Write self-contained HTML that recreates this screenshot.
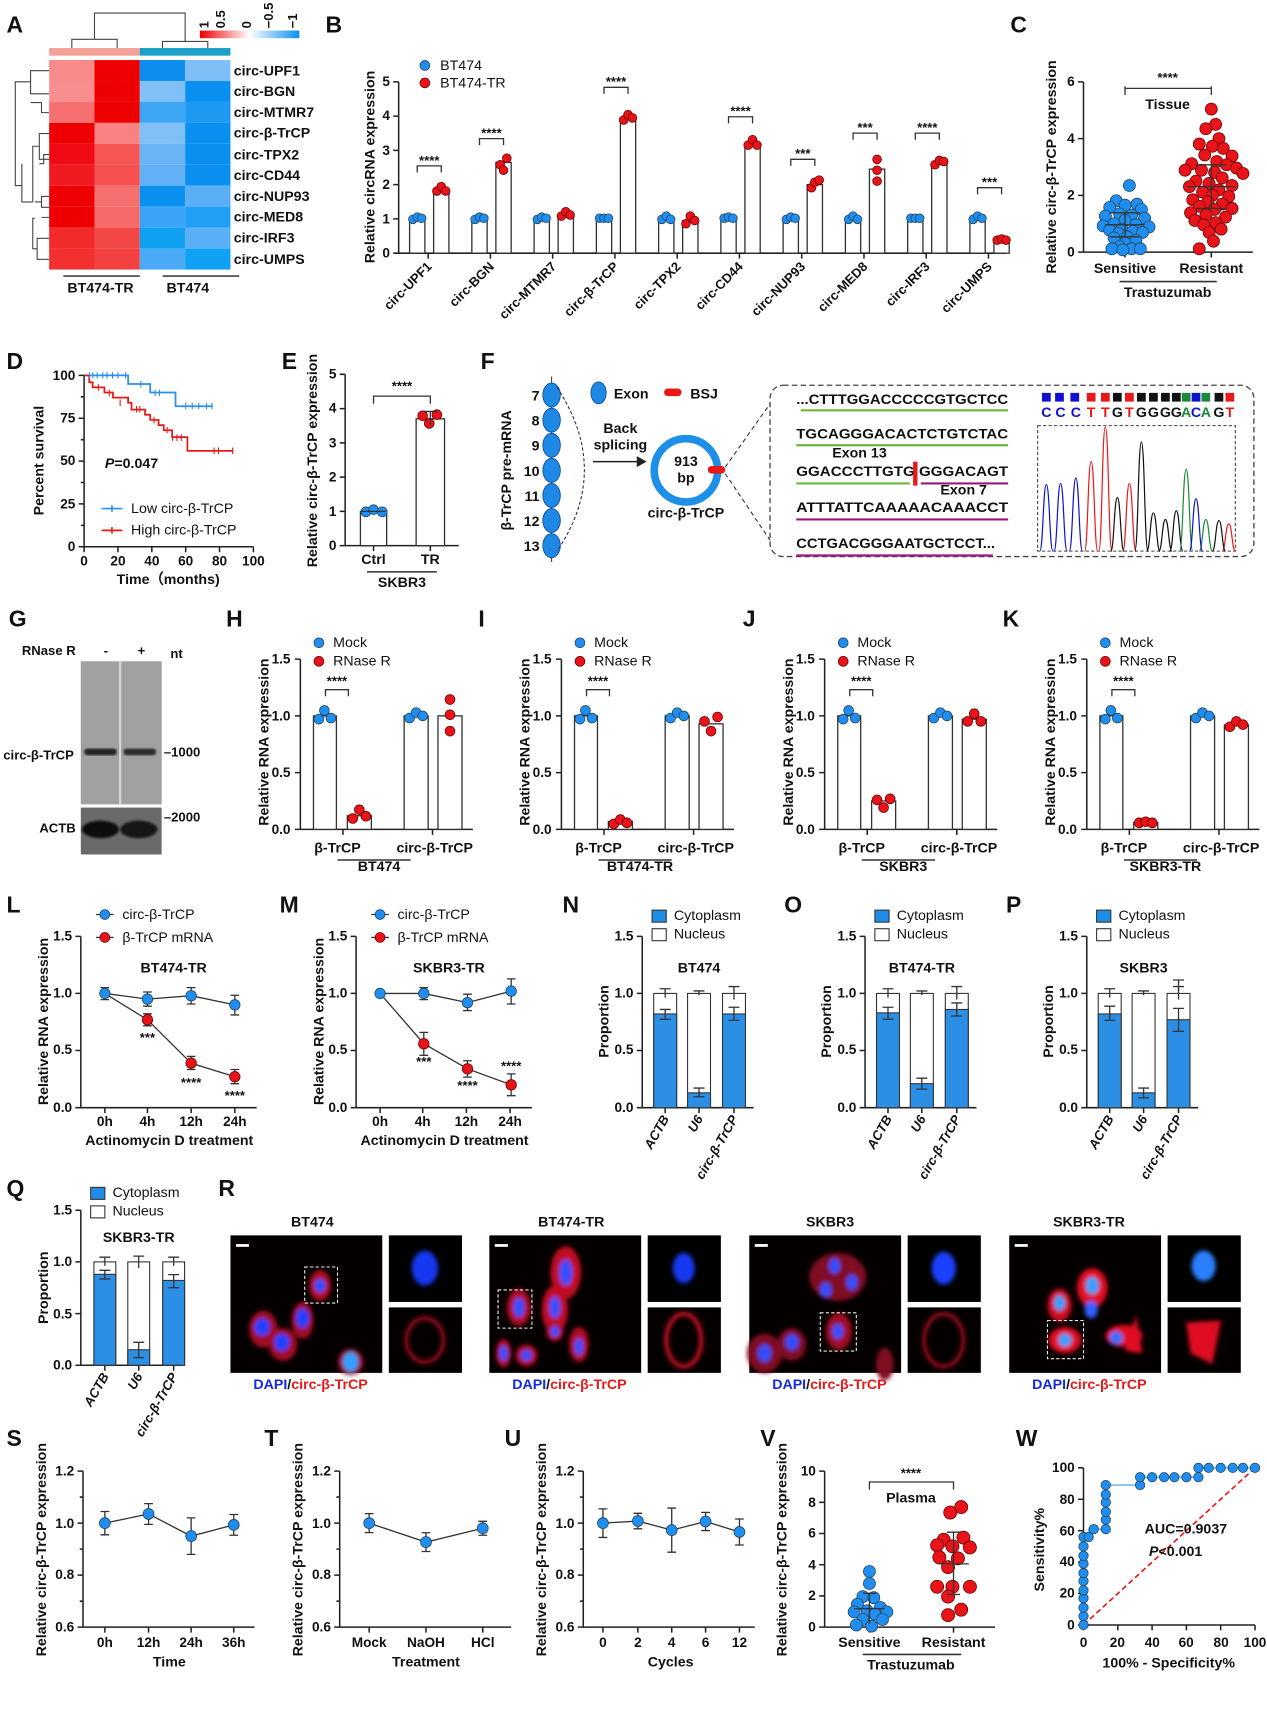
<!DOCTYPE html>
<html><head><meta charset="utf-8"><style>
html,body{margin:0;padding:0;background:#fff;}
svg{display:block;}
text{font-family:"Liberation Sans",sans-serif;font-weight:bold;fill:#111;}
.L{font-size:21px;}
.k{font-size:12px;}
.a{font-size:12.5px;}
.s{font-size:13px;}
.ax{stroke:#222;stroke-width:1.4;fill:none;}
.bar{fill:#fff;stroke:#333;stroke-width:1.2;}
.bd{fill:#1f8ef0;stroke:#245;stroke-width:.7;}
.rd{fill:#e8141a;stroke:#600;stroke-width:.7;}
.eb{stroke:#333;stroke-width:1.2;fill:none;}
.bl{fill:#2b8fe6;stroke:#333;stroke-width:1;}
</style></head><body>
<svg width="1267" height="1721" viewBox="0 0 1160 1577" preserveAspectRatio="none" xmlns="http://www.w3.org/2000/svg">
<defs>
<linearGradient id="cg" x1="0" x2="1"><stop offset="0" stop-color="#ee0000"/><stop offset=".5" stop-color="#fff"/><stop offset="1" stop-color="#0a90f0"/></linearGradient>
<filter id="bl"><feGaussianBlur stdDeviation="2"/></filter>
<filter id="bl2"><feGaussianBlur stdDeviation="1"/></filter>
</defs>

<!-- ===== A ===== -->
<text x="6" y="30" class="L">A</text>
<g stroke="#444" stroke-width="1" fill="none">
<path d="M86.5,36 V12 H169.5 V38"/><path d="M65.75,46 V36 H107.25 V46"/><path d="M148.75,46 V38 H190.25 V46"/>
<path d="M45,64.8 H28 V86 H45 M45,103.2 H38 V94 H28 M28,75 H14 V170 H20 M45,122.4 H36 V146 H45 M45,141.6 H40 V150 H36 M36,134 H30 V185 H20 V150 M45,180 H38 V190 H45 M45,199.2 H38 M38,185 H32 M45,218.4 H34 V237.6 H45 M34,228 H30 V200 H32"/>
</g>
<rect x="45" y="44" width="83" height="7" fill="#f5a096"/><rect x="128" y="44" width="83" height="7" fill="#1ba0c8"/>
<rect x="183" y="28" width="91" height="7" fill="url(#cg)"/>
<g class="k" font-size="11"><text transform="translate(191,26) rotate(-90)">1</text><text transform="translate(206,26) rotate(-90)">0.5</text><text transform="translate(230,26) rotate(-90)">0</text><text transform="translate(250,26) rotate(-90)">−0.5</text><text transform="translate(272,26) rotate(-90)">−1</text></g>
<g>
<rect x="45" y="55" width="41.5" height="19.2" fill="#f88a8a"/><rect x="86.5" y="55" width="41.5" height="19.2" fill="#ee0000"/><rect x="128" y="55" width="41.5" height="19.2" fill="#0b8ef0"/><rect x="169.5" y="55" width="41.5" height="19.2" fill="#7fbff8"/>
<rect x="45" y="74.2" width="41.5" height="19.2" fill="#f88e8e"/><rect x="86.5" y="74.2" width="41.5" height="19.2" fill="#ee0000"/><rect x="128" y="74.2" width="41.5" height="19.2" fill="#80bff8"/><rect x="169.5" y="74.2" width="41.5" height="19.2" fill="#0a90f0"/>
<rect x="45" y="93.4" width="41.5" height="19.2" fill="#f77070"/><rect x="86.5" y="93.4" width="41.5" height="19.2" fill="#ee0000"/><rect x="128" y="93.4" width="41.5" height="19.2" fill="#3ca6f5"/><rect x="169.5" y="93.4" width="41.5" height="19.2" fill="#1c9af2"/>
<rect x="45" y="112.6" width="41.5" height="19.2" fill="#ee0000"/><rect x="86.5" y="112.6" width="41.5" height="19.2" fill="#f88282"/><rect x="128" y="112.6" width="41.5" height="19.2" fill="#80c0f8"/><rect x="169.5" y="112.6" width="41.5" height="19.2" fill="#0a90f0"/>
<rect x="45" y="131.8" width="41.5" height="19.2" fill="#f00a14"/><rect x="86.5" y="131.8" width="41.5" height="19.2" fill="#f65555"/><rect x="128" y="131.8" width="41.5" height="19.2" fill="#6ab4f6"/><rect x="169.5" y="131.8" width="41.5" height="19.2" fill="#0a90f0"/>
<rect x="45" y="151" width="41.5" height="19.2" fill="#f11a20"/><rect x="86.5" y="151" width="41.5" height="19.2" fill="#f65050"/><rect x="128" y="151" width="41.5" height="19.2" fill="#62b0f6"/><rect x="169.5" y="151" width="41.5" height="19.2" fill="#0a90f0"/>
<rect x="45" y="170.2" width="41.5" height="19.2" fill="#ee0000"/><rect x="86.5" y="170.2" width="41.5" height="19.2" fill="#f67070"/><rect x="128" y="170.2" width="41.5" height="19.2" fill="#0a90f0"/><rect x="169.5" y="170.2" width="41.5" height="19.2" fill="#5aaef6"/>
<rect x="45" y="189.4" width="41.5" height="19.2" fill="#ee0000"/><rect x="86.5" y="189.4" width="41.5" height="19.2" fill="#f66a6a"/><rect x="128" y="189.4" width="41.5" height="19.2" fill="#3aa5f5"/><rect x="169.5" y="189.4" width="41.5" height="19.2" fill="#20a0f4"/>
<rect x="45" y="208.6" width="41.5" height="19.2" fill="#f22a2a"/><rect x="86.5" y="208.6" width="41.5" height="19.2" fill="#f44848"/><rect x="128" y="208.6" width="41.5" height="19.2" fill="#10a0f2"/><rect x="169.5" y="208.6" width="41.5" height="19.2" fill="#5ab0f6"/>
<rect x="45" y="227.8" width="41.5" height="19.2" fill="#f23030"/><rect x="86.5" y="227.8" width="41.5" height="19.2" fill="#f34040"/><rect x="128" y="227.8" width="41.5" height="19.2" fill="#4aaaf6"/><rect x="169.5" y="227.8" width="41.5" height="19.2" fill="#10a0f4"/>
</g>
<g class="s"><text x="214" y="69">circ-UPF1</text><text x="214" y="88">circ-BGN</text><text x="214" y="107">circ-MTMR7</text><text x="214" y="126">circ-β-TrCP</text><text x="214" y="146">circ-TPX2</text><text x="214" y="165">circ-CD44</text><text x="214" y="184">circ-NUP93</text><text x="214" y="203">circ-MED8</text><text x="214" y="222">circ-IRF3</text><text x="214" y="242">circ-UMPS</text>
<text x="92" y="268" text-anchor="middle">BT474-TR</text><text x="172" y="268" text-anchor="middle">BT474</text></g>
<path d="M58,253 H128 M149,253 H219" stroke="#444" stroke-width="1.5"/>

<!-- ===== B ===== -->
<text x="298" y="30" class="L">B</text>
<path class="ax" d="M365,75 V232 H921"/>
<path class="ax" d="M360,75H365M360,106.4H365M360,137.8H365M360,169.2H365M360,200.6H365M360,232H365 M392,232v5M449,232v5M506,232v5M563,232v5M620,232v5M677,232v5M734,232v5M791,232v5M848,232v5M905,232v5"/>
<g class="a" text-anchor="end"><text x="357" y="79">5</text><text x="357" y="110">4</text><text x="357" y="142">3</text><text x="357" y="173">2</text><text x="357" y="205">1</text><text x="357" y="236">0</text></g>
<text transform="translate(343,153) rotate(-90)" text-anchor="middle" class="s">Relative circRNA expression</text>
<circle cx="389" cy="60" r="4.5" class="bd"/><text x="403" y="64" class="s" style="font-weight:normal">BT474</text>
<circle cx="389" cy="76" r="4.5" class="rd"/><text x="403" y="80" class="s" style="font-weight:normal">BT474-TR</text>
<g>
<rect class="bar" x="375" y="200.6" width="14" height="31.4"/><rect class="bar" x="432" y="200.6" width="14" height="31.4"/><rect class="bar" x="489" y="200.6" width="14" height="31.4"/><rect class="bar" x="546" y="200.6" width="14" height="31.4"/><rect class="bar" x="603" y="200.6" width="14" height="31.4"/><rect class="bar" x="660" y="200.6" width="14" height="31.4"/><rect class="bar" x="717" y="200.6" width="14" height="31.4"/><rect class="bar" x="774" y="200.6" width="14" height="31.4"/><rect class="bar" x="831" y="200.6" width="14" height="31.4"/><rect class="bar" x="888" y="200.6" width="14" height="31.4"/>
<rect class="bar" x="397" y="173.9" width="14" height="58.1"/><rect class="bar" x="454" y="148.8" width="14" height="83.2"/><rect class="bar" x="511" y="196.8" width="14" height="35.2"/><rect class="bar" x="568" y="108" width="14" height="124"/><rect class="bar" x="625" y="202.2" width="14" height="29.8"/><rect class="bar" x="682" y="131.5" width="14" height="100.5"/><rect class="bar" x="739" y="169.2" width="14" height="62.8"/><rect class="bar" x="796" y="155" width="14" height="77"/><rect class="bar" x="853" y="148.8" width="14" height="83.2"/><rect class="bar" x="910" y="219.4" width="14" height="12.6"/>
</g>
<g>
<circle cx="378" cy="201" r="4" class="bd"/><circle cx="382" cy="199" r="4" class="bd"/><circle cx="386" cy="200" r="4" class="bd"/>
<circle cx="435" cy="201" r="4" class="bd"/><circle cx="439" cy="199" r="4" class="bd"/><circle cx="443" cy="200" r="4" class="bd"/>
<circle cx="492" cy="201" r="4" class="bd"/><circle cx="496" cy="199" r="4" class="bd"/><circle cx="500" cy="200" r="4" class="bd"/>
<circle cx="549" cy="200" r="4" class="bd"/><circle cx="553" cy="200" r="4" class="bd"/><circle cx="557" cy="200" r="4" class="bd"/>
<circle cx="606" cy="201" r="4" class="bd"/><circle cx="610" cy="198" r="4" class="bd"/><circle cx="614" cy="201" r="4" class="bd"/>
<circle cx="663" cy="200" r="4" class="bd"/><circle cx="667" cy="199" r="4" class="bd"/><circle cx="671" cy="200" r="4" class="bd"/>
<circle cx="720" cy="201" r="4" class="bd"/><circle cx="724" cy="199" r="4" class="bd"/><circle cx="728" cy="200" r="4" class="bd"/>
<circle cx="777" cy="201" r="4" class="bd"/><circle cx="781" cy="198" r="4" class="bd"/><circle cx="785" cy="201" r="4" class="bd"/>
<circle cx="834" cy="200" r="4" class="bd"/><circle cx="838" cy="200" r="4" class="bd"/><circle cx="842" cy="200" r="4" class="bd"/>
<circle cx="891" cy="201" r="4" class="bd"/><circle cx="895" cy="198" r="4" class="bd"/><circle cx="899" cy="200" r="4" class="bd"/>
<circle cx="400" cy="175" r="4" class="rd"/><circle cx="404" cy="171" r="4" class="rd"/><circle cx="408" cy="175" r="4" class="rd"/>
<circle cx="458" cy="151" r="4" class="rd"/><circle cx="461" cy="156" r="4" class="rd"/><circle cx="464" cy="145" r="4" class="rd"/>
<circle cx="514" cy="198" r="4" class="rd"/><circle cx="518" cy="194" r="4" class="rd"/><circle cx="522" cy="197" r="4" class="rd"/>
<circle cx="571" cy="110" r="4" class="rd"/><circle cx="575" cy="105" r="4" class="rd"/><circle cx="579" cy="108" r="4" class="rd"/>
<circle cx="628" cy="205" r="4" class="rd"/><circle cx="632" cy="198" r="4" class="rd"/><circle cx="636" cy="202" r="4" class="rd"/>
<circle cx="685" cy="133" r="4" class="rd"/><circle cx="689" cy="128" r="4" class="rd"/><circle cx="693" cy="133" r="4" class="rd"/>
<circle cx="743" cy="172" r="4" class="rd"/><circle cx="746" cy="167" r="4" class="rd"/><circle cx="750" cy="165" r="4" class="rd"/>
<circle cx="803" cy="146" r="4" class="rd"/><circle cx="803" cy="156" r="4" class="rd"/><circle cx="803" cy="166" r="4" class="rd"/>
<circle cx="856" cy="151" r="4" class="rd"/><circle cx="860" cy="147" r="4" class="rd"/><circle cx="864" cy="148" r="4" class="rd"/>
<circle cx="913" cy="220" r="4" class="rd"/><circle cx="917" cy="219" r="4" class="rd"/><circle cx="921" cy="220" r="4" class="rd"/>
</g>
<g class="eb"><path d="M382,158V152H404V158M382,152H404"/><path d="M439,133V127H461V133M439,127H461"/><path d="M553,86V80H575V86M553,80H575"/><path d="M667,113V107H689V113M667,107H689"/><path d="M724,152V146H746V152M724,146H746"/><path d="M781,128V122H803V128M781,122H803"/><path d="M838,128V122H860V128M838,122H860"/><path d="M895,178V172H917V178M895,172H917"/></g>
<g class="k" text-anchor="middle"><text x="393" y="151">****</text><text x="450" y="126">****</text><text x="564" y="79">****</text><text x="678" y="106">****</text><text x="735" y="145">***</text><text x="792" y="121">***</text><text x="849" y="121">****</text><text x="906" y="171">***</text></g>
<g class="k" text-anchor="end" font-size="12.5">
<text transform="translate(396,245) rotate(-45)">circ-UPF1</text><text transform="translate(453,245) rotate(-45)">circ-BGN</text><text transform="translate(510,245) rotate(-45)">circ-MTMR7</text><text transform="translate(567,245) rotate(-45)">circ-β-TrCP</text><text transform="translate(624,245) rotate(-45)">circ-TPX2</text><text transform="translate(681,245) rotate(-45)">circ-CD44</text><text transform="translate(738,245) rotate(-45)">circ-NUP93</text><text transform="translate(795,245) rotate(-45)">circ-MED8</text><text transform="translate(852,245) rotate(-45)">circ-IRF3</text><text transform="translate(909,245) rotate(-45)">circ-UMPS</text>
</g>

<!-- ===== C ===== -->
<text x="925" y="30" class="L">C</text>
<path class="ax" d="M992,75V231H1147M987,75H992M987,127H992M987,179H992M987,231H992M1030,231v5M1109,231v5"/>
<g class="a" text-anchor="end"><text x="984" y="79">6</text><text x="984" y="131">4</text><text x="984" y="183">2</text><text x="984" y="235">0</text></g>
<text transform="translate(967,153) rotate(-90)" text-anchor="middle" class="s">Relative circ-β-TrCP expression</text>
<path class="eb" d="M1030,87V79M1030,81H1109M1109,87V79"/>
<text x="1069" y="75" class="k" text-anchor="middle">****</text>
<text x="1069" y="100" class="s" text-anchor="middle">Tissue</text>
<g class="bd">
<circle cx="1034" cy="170" r="5.5"/><circle cx="1022" cy="184" r="5.5"/><circle cx="1041" cy="187" r="5.5"/><circle cx="1030" cy="188" r="5.5"/><circle cx="1016" cy="190" r="5.5"/><circle cx="1045" cy="192" r="5.5"/><circle cx="1025" cy="196" r="5.5"/><circle cx="1036" cy="197" r="5.5"/><circle cx="1012" cy="198" r="5.5"/><circle cx="1048" cy="200" r="5.5"/><circle cx="1030" cy="202" r="5.5"/><circle cx="1020" cy="205" r="5.5"/><circle cx="1040" cy="206" r="5.5"/><circle cx="1010" cy="207" r="5.5"/><circle cx="1052" cy="208" r="5.5"/><circle cx="1027" cy="210" r="5.5"/><circle cx="1016" cy="211" r="5.5"/><circle cx="1037" cy="212" r="5.5"/><circle cx="1046" cy="213" r="5.5"/><circle cx="1024" cy="214" r="5.5"/><circle cx="1032" cy="217" r="5.5"/><circle cx="1020" cy="218" r="5.5"/><circle cx="1040" cy="220" r="5.5"/><circle cx="1030" cy="223" r="5.5"/><circle cx="1025" cy="226" r="5.5"/><circle cx="1018" cy="228" r="5.5"/><circle cx="1036" cy="228" r="5.5"/><circle cx="1028" cy="229" r="5.5"/><circle cx="1044" cy="228" r="5.5"/>
</g>
<g class="rd">
<circle cx="1109" cy="100" r="5.5"/><circle cx="1113" cy="114" r="5.5"/><circle cx="1104" cy="118" r="5.5"/><circle cx="1116" cy="127" r="5.5"/><circle cx="1098" cy="132" r="5.5"/><circle cx="1110" cy="134" r="5.5"/><circle cx="1120" cy="136" r="5.5"/><circle cx="1103" cy="142" r="5.5"/><circle cx="1128" cy="143" r="5.5"/><circle cx="1114" cy="148" r="5.5"/><circle cx="1091" cy="150" r="5.5"/><circle cx="1123" cy="151" r="5.5"/><circle cx="1132" cy="154" r="5.5"/><circle cx="1085" cy="156" r="5.5"/><circle cx="1100" cy="156" r="5.5"/><circle cx="1112" cy="158" r="5.5"/><circle cx="1138" cy="159" r="5.5"/><circle cx="1119" cy="163" r="5.5"/><circle cx="1095" cy="166" r="5.5"/><circle cx="1107" cy="168" r="5.5"/><circle cx="1128" cy="170" r="5.5"/><circle cx="1089" cy="171" r="5.5"/><circle cx="1116" cy="174" r="5.5"/><circle cx="1101" cy="176" r="5.5"/><circle cx="1110" cy="179" r="5.5"/><circle cx="1125" cy="180" r="5.5"/><circle cx="1092" cy="183" r="5.5"/><circle cx="1106" cy="185" r="5.5"/><circle cx="1119" cy="187" r="5.5"/><circle cx="1098" cy="189" r="5.5"/><circle cx="1128" cy="191" r="5.5"/><circle cx="1112" cy="192" r="5.5"/><circle cx="1090" cy="195" r="5.5"/><circle cx="1104" cy="197" r="5.5"/><circle cx="1122" cy="199" r="5.5"/><circle cx="1094" cy="202" r="5.5"/><circle cx="1113" cy="204" r="5.5"/><circle cx="1102" cy="206" r="5.5"/><circle cx="1118" cy="210" r="5.5"/><circle cx="1107" cy="213" r="5.5"/><circle cx="1111" cy="221" r="5.5"/><circle cx="1098" cy="228" r="5.5"/>
</g>
<path class="eb" d="M1012,206H1048M1030,195V217M1016,195H1044M1016,217H1044 M1087,171H1131M1109,151V191M1095,151H1123M1095,191H1123" stroke="#444"/>
<g class="s" text-anchor="middle"><text x="1030" y="250">Sensitive</text><text x="1109" y="250">Resistant</text><text x="1069" y="272">Trastuzumab</text></g>
<path d="M1025,258H1114" stroke="#333" stroke-width="1.4"/>

<!-- ===== D ===== -->
<text x="6" y="338" class="L">D</text>
<path class="ax" d="M77,344V501H232M72,344H77M72,383.25H77M72,422.5H77M72,461.75H77M72,501H77M74,363.6H77M74,402.9H77M74,442.1H77M74,481.4H77M77,501v5M108,501v5M139,501v5M170,501v5M201,501v5M232,501v5"/>
<g class="a" text-anchor="end"><text x="69" y="348">100</text><text x="69" y="387">75</text><text x="69" y="426">50</text><text x="69" y="466">25</text><text x="69" y="505">0</text></g>
<g class="a" text-anchor="middle"><text x="77" y="518">0</text><text x="108" y="518">20</text><text x="139" y="518">40</text><text x="170" y="518">60</text><text x="201" y="518">80</text><text x="232" y="518">100</text></g>
<text x="154" y="535" class="s" text-anchor="middle">Time（months)</text>
<text transform="translate(40,422) rotate(-90)" text-anchor="middle" class="s">Percent survival</text>
<path d="M77,344H117.3V351.9H137.5V359.7H160.7V372.3H194.8" stroke="#2a8ff0" stroke-width="1.6" fill="none"/>
<path d="M77,344H81.7V350.3H84.8V355H95.6V359.7H103.4V364.4H117.3V369.1H120.4V375.4H132.8V380.1H137.5V384.8H145.2V389.5H149.9V394.2H157.6V400.5H171.6V413.1H213.4" stroke="#e81818" stroke-width="1.6" fill="none"/>
<path d="M82,341V347M85,341V347M89,341V347M94,341V347M98,341V347M103,341V347M108,341V347M115,341V347M129,349V355M142,357V363M146,357V363M170,369V375M176,369V375M182,369V375M189,369V375M194,369V375" stroke="#2a8ff0" stroke-width="1"/>
<path d="M90,352V358M100,357V363M110,366V372M125,372V378M128,372V378M141,382V388M153,391V397M158,398V404M162,398V404M166,398V404M196,410V416M200,410V416M213,410V416" stroke="#e81818" stroke-width="1"/>
<text x="96" y="429" class="s"><tspan font-style="italic">P</tspan>=0.047</text>
<path d="M93,466H112M102.5,463V469" stroke="#2a8ff0" stroke-width="1.5"/><text x="120" y="470" class="s" style="font-weight:normal">Low circ-β-TrCP</text>
<path d="M93,486H112M102.5,483V489" stroke="#e81818" stroke-width="1.5"/><text x="120" y="490" class="s" style="font-weight:normal">High circ-β-TrCP</text>

<!-- ===== E ===== -->
<text x="258" y="338" class="L">E</text>
<path class="ax" d="M316,343V500H420M311,343H316M311,374.4H316M311,405.8H316M311,437.2H316M311,468.6H316M311,500H316M342,500v5M394,500v5"/>
<g class="a" text-anchor="end"><text x="308" y="347">5</text><text x="308" y="378">4</text><text x="308" y="410">3</text><text x="308" y="441">2</text><text x="308" y="473">1</text><text x="308" y="504">0</text></g>
<text transform="translate(290,422) rotate(-90)" text-anchor="middle" class="s">Relative circ-β-TrCP expression</text>
<rect class="bar" x="330" y="468.6" width="24" height="31.4"/><rect class="bar" x="381" y="383.8" width="26" height="116.2"/>
<circle cx="335" cy="469" r="4.5" class="bd"/><circle cx="342" cy="467" r="4.5" class="bd"/><circle cx="350" cy="469" r="4.5" class="bd"/>
<circle cx="387" cy="381" r="4.5" class="rd"/><circle cx="393" cy="388" r="4.5" class="rd"/><circle cx="400" cy="380" r="4.5" class="rd"/>
<path class="eb" d="M331,468.6H353M394,377V390M388,377H400"/>
<path class="eb" d="M342,370V363H394V370"/><text x="368" y="358" class="k" text-anchor="middle">****</text>
<g class="s" text-anchor="middle"><text x="342" y="517">Ctrl</text><text x="394" y="517">TR</text><text x="368" y="538">SKBR3</text></g>
<path d="M336,524H400" stroke="#333" stroke-width="1.4"/>

<!-- ===== F ===== -->
<text x="440" y="338" class="L">F</text>
<text transform="translate(468,431) rotate(-90)" text-anchor="middle" class="s">β-TrCP pre-mRNA</text>
<path d="M505,345V515" stroke="#444" stroke-width="1"/>
<g fill="#1e88e5" stroke="#0d4f9c" stroke-width=".8">
<ellipse cx="505" cy="362" rx="8" ry="11"/><ellipse cx="505" cy="385" rx="8" ry="11"/><ellipse cx="505" cy="408" rx="8" ry="11"/><ellipse cx="505" cy="431" rx="8" ry="11"/><ellipse cx="505" cy="454" rx="8" ry="11"/><ellipse cx="505" cy="477" rx="8" ry="11"/><ellipse cx="505" cy="500" rx="8" ry="11"/>
</g>
<g class="s" text-anchor="end"><text x="494" y="367">7</text><text x="494" y="390">8</text><text x="494" y="413">9</text><text x="494" y="436">10</text><text x="494" y="459">11</text><text x="494" y="482">12</text><text x="494" y="505">13</text></g>
<path d="M510,355 Q560,431 510,505" stroke="#333" stroke-width="1" stroke-dasharray="3,2" fill="none"/>
<ellipse cx="548" cy="360" rx="7" ry="10" fill="#1e88e5" stroke="#0d4f9c" stroke-width=".8"/><text x="562" y="365" class="s">Exon</text>
<rect x="608" y="356" width="16" height="7" rx="3.5" fill="#e81818"/><text x="632" y="365" class="s">BSJ</text>
<text x="568" y="397" class="s" text-anchor="middle">Back</text><text x="568" y="412" class="s" text-anchor="middle">splicing</text>
<path d="M543,423H585" stroke="#222" stroke-width="1.4"/><path d="M583,418L592,423L583,428Z" fill="#222"/>
<circle cx="628" cy="431" r="29" fill="none" stroke="#1e8fe8" stroke-width="7"/>
<text x="628" y="427" class="s" text-anchor="middle">913</text><text x="628" y="442" class="s" text-anchor="middle">bp</text>
<rect x="648" y="427" width="16" height="7" rx="3.5" fill="#e81818"/>
<text x="628" y="474" class="s" text-anchor="middle">circ-β-TrCP</text>
<path d="M664,428L705,370M664,434L705,495" stroke="#333" stroke-width="1" stroke-dasharray="4,3"/>
<rect x="705" y="353" width="443" height="157" rx="12" fill="none" stroke="#444" stroke-width="1.2" stroke-dasharray="5,3"/>
<g class="s" font-size="13">
<text x="729" y="370" textLength="194" lengthAdjust="spacingAndGlyphs">...CTTTGGACCCCCGTGCTCC</text>
<text x="729" y="402" textLength="194" lengthAdjust="spacingAndGlyphs">TGCAGGGACACTCTGTCTAC</text>
<text x="762" y="419">Exon 13</text>
<text x="729" y="436" textLength="194" lengthAdjust="spacingAndGlyphs">GGACCCTTGTG GGGACAGT</text>
<text x="861" y="453">Exon 7</text>
<text x="729" y="469" textLength="194" lengthAdjust="spacingAndGlyphs">ATTTATTCAAAAACAAACCT</text>
<text x="729" y="502" textLength="182" lengthAdjust="spacingAndGlyphs">CCTGACGGGAATGCTCCT...</text>
</g>
<g stroke-width="2"><path d="M733,376H923M729,408H923M729,443H833" stroke="#6bb83a"/><path d="M843,443H923M729,476H923M729,509H909" stroke="#a0157a"/></g>
<rect x="836" y="423" width="4" height="22" fill="#e81818"/>
<rect x="950" y="390" width="181" height="115" fill="none" stroke="#444" stroke-dasharray="3,2" stroke-width="1"/>
<g>
<rect x="954" y="360" width="8" height="8" fill="#1010d0"/><rect x="966" y="360" width="8" height="8" fill="#1010d0"/><rect x="980" y="360" width="8" height="8" fill="#1010d0"/><rect x="995" y="360" width="8" height="8" fill="#e81818"/><rect x="1008" y="360" width="8" height="8" fill="#e81818"/><rect x="1019" y="360" width="8" height="8" fill="#111"/><rect x="1030" y="360" width="8" height="8" fill="#e81818"/><rect x="1041" y="360" width="8" height="8" fill="#111"/><rect x="1052" y="360" width="8" height="8" fill="#111"/><rect x="1063" y="360" width="8" height="8" fill="#111"/><rect x="1073" y="360" width="8" height="8" fill="#111"/><rect x="1082" y="360" width="8" height="8" fill="#1a8a3a"/><rect x="1091" y="360" width="8" height="8" fill="#1010d0"/><rect x="1100" y="360" width="8" height="8" fill="#1a8a3a"/><rect x="1112" y="360" width="8" height="8" fill="#111"/><rect x="1122" y="360" width="8" height="8" fill="#e81818"/>
</g>
<g class="s" font-size="13" text-anchor="middle">
<text x="958" y="382" style="fill:#1010d0">C</text><text x="971" y="382" style="fill:#1010d0">C</text><text x="985" y="382" style="fill:#1010d0">C</text><text x="999" y="382" style="fill:#e81818">T</text><text x="1012" y="382" style="fill:#e81818">T</text><text x="1023" y="382">G</text><text x="1034" y="382" style="fill:#e81818">T</text><text x="1045" y="382">G</text><text x="1056" y="382">G</text><text x="1067" y="382">G</text><text x="1077" y="382">G</text><text x="1086" y="382" style="fill:#1a8a3a">A</text><text x="1095" y="382" style="fill:#1010d0">C</text><text x="1104" y="382" style="fill:#1a8a3a">A</text><text x="1116" y="382">G</text><text x="1126" y="382" style="fill:#e81818">T</text>
</g>
<g fill="none" stroke-width="1.1">
<path d="M952,505C955,505 955,444 958,444C961,444 961,505 964,505M965,505C968,505 968,443 971,443C974,443 974,505 977,505M979,505C982,505 982,438 985,438C988,438 988,505 991,505" stroke="#1010d0"/>
<path d="M993,505C996,505 996,423 999,423C1002,423 1002,505 1005,505M1006,505C1009,505 1009,391 1012,391C1015,391 1015,505 1018,505M1028,505C1031,505 1031,443 1034,443C1037,443 1037,505 1040,505M1119,505C1122,505 1122,480 1125,480C1128,480 1128,505 1131,505" stroke="#e81818"/>
<path d="M1017,505C1020,505 1020,456 1023,456C1026,456 1026,505 1029,505M1039,505C1042,505 1042,405 1045,405C1048,405 1048,505 1051,505M1050,505C1053,505 1053,470 1056,470C1059,470 1059,505 1062,505M1061,505C1064,505 1064,476 1067,476C1070,476 1070,505 1073,505M1071,505C1074,505 1074,468 1077,468C1080,468 1080,505 1083,505M1110,505C1113,505 1113,477 1116,477C1119,477 1119,505 1122,505" stroke="#111"/>
<path d="M1080,505C1083,505 1083,430 1086,430C1089,430 1089,505 1092,505M1098,505C1101,505 1101,476 1104,476C1107,476 1107,505 1110,505" stroke="#1a8a3a"/>
<path d="M1089,505C1092,505 1092,457 1095,457C1098,457 1098,505 1101,505" stroke="#1010d0"/>
</g>

<!-- ===== G ===== -->
<text x="8" y="574" class="L">G</text>
<text x="20" y="600" class="k">RNase R</text><text x="95" y="600" class="k">-</text><text x="126" y="600" class="k">+</text><text x="156" y="603" class="k">nt</text>
<rect x="74" y="606" width="74" height="131" fill="#8a8a8a"/>
<rect x="74" y="606" width="74" height="131" fill="#b8b8b8" opacity=".5"/>
<rect x="109" y="606" width="2" height="131" fill="#d8d8d8"/>
<rect x="77" y="686" width="30" height="6" rx="3" fill="#222" filter="url(#bl2)"/><rect x="113" y="686" width="30" height="6" rx="3" fill="#2a2a2a" filter="url(#bl2)"/>
<rect x="74" y="740" width="74" height="43" fill="#6a6a6a"/>
<ellipse cx="92" cy="760" rx="17" ry="8" fill="#111" filter="url(#bl2)"/><ellipse cx="127" cy="760" rx="17" ry="8" fill="#151515" filter="url(#bl2)"/>
<text x="3" y="696" class="k">circ-β-TrCP</text><text x="36" y="763" class="k">ACTB</text>
<text x="150" y="693" class="k">–1000</text><text x="150" y="753" class="k">–2000</text>

<!-- ===== H ===== -->
<g id="H">
<path class="ax" d="M275,604V760H433M270,604H275M270,656H275M270,708H275M270,760H275M314,760v5M396,760v5"/>
<g class="a" text-anchor="end"><text x="266" y="608">1.5</text><text x="266" y="660">1.0</text><text x="266" y="712">0.5</text><text x="266" y="764">0.0</text></g>
<text transform="translate(246,680) rotate(-90)" text-anchor="middle" class="s">Relative RNA expression</text>
<circle cx="292" cy="589" r="4.5" class="bd"/><text x="305" y="593" class="s" style="font-weight:normal">Mock</text>
<circle cx="292" cy="606" r="4.5" class="rd"/><text x="305" y="610" class="s" style="font-weight:normal">RNase R</text>
<rect class="bar" x="287" y="656" width="21" height="104"/><rect class="bar" x="370" y="656" width="22" height="104"/>
<circle cx="292" cy="659" r="4.5" class="bd"/><circle cx="297" cy="651" r="4.5" class="bd"/><circle cx="303" cy="658" r="4.5" class="bd"/>
<circle cx="375" cy="658" r="4.5" class="bd"/><circle cx="381" cy="653" r="4.5" class="bd"/><circle cx="387" cy="656" r="4.5" class="bd"/>
<path class="eb" d="M298,638V632H319V638M298,632H319"/><text x="308.5" y="628" class="k" text-anchor="middle">****</text>
<g class="s" text-anchor="middle"><text x="309" y="781">β-TrCP</text><text x="398" y="781">circ-β-TrCP</text></g>
<path d="M309,788H376" stroke="#333" stroke-width="1.4"/>
</g>
<text x="207" y="574" class="L">H</text>
<rect class="bar" x="318" y="747.5" width="22" height="12.5"/><rect class="bar" x="401" y="656" width="22" height="104"/>
<circle cx="323" cy="750" r="4.5" class="rd"/><circle cx="329" cy="742" r="4.5" class="rd"/><circle cx="335" cy="748" r="4.5" class="rd"/>
<circle cx="412" cy="641" r="4.5" class="rd"/><circle cx="412" cy="655" r="4.5" class="rd"/><circle cx="412" cy="670" r="4.5" class="rd"/>
<text x="347" y="798" class="s" text-anchor="middle">BT474</text>

<use href="#H" x="239"/>
<text x="438" y="574" class="L">I</text>
<rect class="bar" x="557" y="752.7" width="22" height="7.3"/><rect class="bar" x="640" y="663.3" width="22" height="96.7"/>
<circle cx="562" cy="755" r="4.5" class="rd"/><circle cx="568" cy="751" r="4.5" class="rd"/><circle cx="574" cy="754" r="4.5" class="rd"/>
<circle cx="645" cy="661" r="4.5" class="rd"/><circle cx="651" cy="670" r="4.5" class="rd"/><circle cx="657" cy="657" r="4.5" class="rd"/>
<text x="586" y="798" class="s" text-anchor="middle">BT474-TR</text>

<use href="#H" x="480"/>
<text x="680" y="574" class="L">J</text>
<rect class="bar" x="798" y="734" width="22" height="26"/><rect class="bar" x="881" y="659" width="22" height="101"/>
<circle cx="803" cy="733" r="4.5" class="rd"/><circle cx="809" cy="740" r="4.5" class="rd"/><circle cx="815" cy="732" r="4.5" class="rd"/>
<circle cx="886" cy="661" r="4.5" class="rd"/><circle cx="892" cy="654" r="4.5" class="rd"/><circle cx="898" cy="661" r="4.5" class="rd"/>
<text x="827" y="798" class="s" text-anchor="middle">SKBR3</text>

<use href="#H" x="720"/>
<text x="918" y="574" class="L">K</text>
<rect class="bar" x="1038" y="753.8" width="22" height="6.2"/><rect class="bar" x="1121" y="664.3" width="22" height="95.7"/>
<circle cx="1043" cy="754" r="4.5" class="rd"/><circle cx="1049" cy="753" r="4.5" class="rd"/><circle cx="1055" cy="754" r="4.5" class="rd"/>
<circle cx="1126" cy="666" r="4.5" class="rd"/><circle cx="1132" cy="661" r="4.5" class="rd"/><circle cx="1138" cy="664" r="4.5" class="rd"/>
<text x="1067" y="798" class="s" text-anchor="middle">SKBR3-TR</text>

<!-- ===== L / M ===== -->
<g id="Lax">
<path class="ax" d="M74,858V1015H235M69,858H74M69,910.3H74M69,962.6H74M69,1015H74M96,1015v5M135,1015v5M175,1015v5M215,1015v5"/>
<g class="a" text-anchor="end"><text x="66" y="862">1.5</text><text x="66" y="914">1.0</text><text x="66" y="966">0.5</text><text x="66" y="1019">0.0</text></g>
<text transform="translate(44,936) rotate(-90)" text-anchor="middle" class="s">Relative RNA expression</text>
<g class="a" text-anchor="middle"><text x="96" y="1032">0h</text><text x="135" y="1032">4h</text><text x="175" y="1032">12h</text><text x="215" y="1032">24h</text></g>
<text x="155" y="1049" class="s" text-anchor="middle">Actinomycin D treatment</text>
<path d="M88,838H104" stroke="#333" stroke-width="1.2"/><circle cx="96" cy="838" r="4.5" class="bd"/><text x="112" y="842" class="s" style="font-weight:normal">circ-β-TrCP</text>
<path d="M88,859H104" stroke="#333" stroke-width="1.2"/><circle cx="96" cy="859" r="4.5" class="rd"/><text x="112" y="863" class="s" style="font-weight:normal">β-TrCP mRNA</text>
</g>
<text x="6" y="836" class="L">L</text>
<text x="159" y="891" class="s" text-anchor="middle">BT474-TR</text>
<path d="M96,910.3L135,915.5L175,912.4L215,920.8M96,910.3L135,934.4L175,974.2L215,986.7" stroke="#333" stroke-width="1.2" fill="none"/>
<path class="eb" d="M96,905V916M135,909V922M175,905V920M215,912V930M135,929V940M175,968V980M215,980V993M92,905H100M92,916H100M131,909H139M131,922H139M171,905H179M171,920H179M211,912H219M211,930H219M131,929H139M131,940H139M171,968H179M171,980H179M211,980H219M211,993H219"/>
<circle cx="96" cy="910.3" r="4.8" class="bd"/><circle cx="135" cy="915.5" r="4.8" class="bd"/><circle cx="175" cy="912.4" r="4.8" class="bd"/><circle cx="215" cy="920.8" r="4.8" class="bd"/>
<circle cx="135" cy="934.4" r="4.8" class="rd"/><circle cx="175" cy="974.2" r="4.8" class="rd"/><circle cx="215" cy="986.7" r="4.8" class="rd"/>
<g class="k" text-anchor="middle"><text x="135" y="955">***</text><text x="175" y="996">****</text><text x="215" y="1008">****</text></g>

<use href="#Lax" x="252"/>
<text x="256" y="836" class="L">M</text>
<text x="411" y="891" class="s" text-anchor="middle">SKBR3-TR</text>
<path d="M348,910.3L388,910.3L428,918.7L468,908.2M348,910.3L388,956.4L428,979.4L468,994.1" stroke="#333" stroke-width="1.2" fill="none"/>
<path class="eb" d="M388,905V916M428,911V926M468,897V920M388,946V967M428,972V987M468,984V1004M384,905H392M384,916H392M424,911H432M424,926H432M464,897H472M464,920H472M384,946H392M384,967H392M424,972H432M424,987H432M464,984H472M464,1004H472"/>
<circle cx="348" cy="910.3" r="4.8" class="bd"/><circle cx="388" cy="910.3" r="4.8" class="bd"/><circle cx="428" cy="918.7" r="4.8" class="bd"/><circle cx="468" cy="908.2" r="4.8" class="bd"/>
<circle cx="388" cy="956.4" r="4.8" class="rd"/><circle cx="428" cy="979.4" r="4.8" class="rd"/><circle cx="468" cy="994.1" r="4.8" class="rd"/>
<g class="k" text-anchor="middle"><text x="388" y="977">***</text><text x="428" y="999">****</text><text x="468" y="981">****</text></g>

<!-- ===== N/O/P ===== -->
<g id="Nax">
<path class="ax" d="M588,858V1015H690M583,858H588M583,910.3H588M583,962.6H588M583,1015H588M609,1015v5M640,1015v5M672,1015v5"/>
<g class="a" text-anchor="end"><text x="580" y="862">1.5</text><text x="580" y="914">1.0</text><text x="580" y="966">0.5</text><text x="580" y="1019">0.0</text></g>
<text transform="translate(557,936) rotate(-90)" text-anchor="middle" class="s">Proportion</text>
<rect x="597" y="834" width="13" height="11" fill="#1f8ee8" stroke="#333"/><text x="617" y="843" class="s" style="font-weight:normal">Cytoplasm</text>
<rect x="597" y="851" width="13" height="11" fill="#fff" stroke="#333"/><text x="617" y="860" class="s" style="font-weight:normal">Nucleus</text>
<rect x="598.5" y="910.3" width="21" height="104.7" fill="#fff" stroke="#333"/><rect x="629.5" y="910.3" width="21" height="104.7" fill="#fff" stroke="#333"/><rect x="661.5" y="910.3" width="21" height="104.7" fill="#fff" stroke="#333"/>
<path class="eb" d="M609,906V914M604,906H614M640,908V912M635,908H645M672,904V916M667,904H677"/>
<g class="k" text-anchor="end" font-style="italic"><text transform="translate(613,1025) rotate(-60)">ACTB</text><text transform="translate(644,1025) rotate(-60)">U6</text><text transform="translate(676,1025) rotate(-60)">circ-β-TrCP</text></g>
</g>
<text x="515" y="836" class="L">N</text><text x="640" y="891" class="s" text-anchor="middle">BT474</text>
<rect x="598.5" y="929.1" width="21" height="85.9" class="bl"/><rect x="629.5" y="1001.4" width="21" height="13.6" class="bl"/><rect x="661.5" y="929.1" width="21" height="85.9" class="bl"/>
<path class="eb" d="M609,925V934M604,925H614M604,934H614M640,997V1005M635,997H645M635,1005H645M672,923V935M667,923H677M667,935H677"/>

<use href="#Nax" x="204"/>
<text x="718" y="836" class="L">O</text><text x="844" y="891" class="s" text-anchor="middle">BT474-TR</text>
<rect x="802.5" y="928.1" width="21" height="86.9" class="bl"/><rect x="833.5" y="993" width="21" height="22" class="bl"/><rect x="865.5" y="925" width="21" height="90" class="bl"/>
<path class="eb" d="M813,923V934M808,923H818M808,934H818M844,988V998M839,988H849M839,998H849M876,919V931M871,919H881M871,931H881"/>

<use href="#Nax" x="407"/>
<text x="921" y="836" class="L">P</text><text x="1047" y="891" class="s" text-anchor="middle">SKBR3</text>
<rect x="1005.5" y="929.1" width="21" height="85.9" class="bl"/><rect x="1036.5" y="1001.4" width="21" height="13.6" class="bl"/><rect x="1068.5" y="934.4" width="21" height="80.6" class="bl"/>
<path class="eb" d="M1016,922V935M1011,922H1021M1011,935H1021M1047,997V1006M1042,997H1052M1042,1006H1052M1079,924V945M1074,924H1084M1074,945H1084M1079,898V908M1074,898H1084"/>

<!-- ===== Q ===== -->
<text x="6" y="1096" class="L">Q</text>
<path class="ax" d="M74,1109V1251H166M69,1109H74M69,1156.3H74M69,1203.7H74M69,1251H74M96,1251v5M127,1251v5M159,1251v5"/>
<g class="a" text-anchor="end"><text x="66" y="1113">1.5</text><text x="66" y="1160">1.0</text><text x="66" y="1208">0.5</text><text x="66" y="1255">0.0</text></g>
<text transform="translate(44,1180) rotate(-90)" text-anchor="middle" class="s">Proportion</text>
<rect x="83" y="1088" width="13" height="11" fill="#1f8ee8" stroke="#333"/><text x="103" y="1097" class="s" style="font-weight:normal">Cytoplasm</text>
<rect x="83" y="1105" width="13" height="11" fill="#fff" stroke="#333"/><text x="103" y="1114" class="s" style="font-weight:normal">Nucleus</text>
<text x="127" y="1138" class="s" text-anchor="middle">SKBR3-TR</text>
<rect x="86" y="1156.3" width="20" height="94.7" fill="#fff" stroke="#333"/><rect x="117" y="1156.3" width="20" height="94.7" fill="#fff" stroke="#333"/><rect x="149" y="1156.3" width="20" height="94.7" fill="#fff" stroke="#333"/>
<rect x="86" y="1167.7" width="20" height="83.3" class="bl"/><rect x="117" y="1236.8" width="20" height="14.2" class="bl"/><rect x="149" y="1173.3" width="20" height="77.7" class="bl"/>
<path class="eb" d="M96,1152V1160M91,1152H101M96,1164V1172M91,1164H101M91,1172H101M127,1151V1162M122,1151H132M127,1230V1244M122,1230H132M122,1244H132M159,1152V1160M154,1152H164M159,1168V1180M154,1168H164M154,1180H164"/>
<g class="k" text-anchor="end" font-style="italic"><text transform="translate(100,1261) rotate(-60)">ACTB</text><text transform="translate(131,1261) rotate(-60)">U6</text><text transform="translate(163,1261) rotate(-60)">circ-β-TrCP</text></g>

<!-- ===== R ===== -->
<text x="200" y="1096" class="L">R</text>
<g id="R1">
<rect x="211" y="1132" width="139" height="126" fill="#050000"/>
<rect x="356" y="1132" width="67" height="61" fill="#000"/>
<rect x="356" y="1198" width="67" height="60" fill="#050000"/>
<rect x="216" y="1140" width="12" height="2.5" fill="#fff"/>
</g>
<text x="286" y="1124" class="s" text-anchor="middle">BT474</text>
<g filter="url(#bl)">
<ellipse cx="241" cy="1218" rx="13" ry="17" fill="#a01020"/><ellipse cx="259" cy="1232" rx="13" ry="15" fill="#a01020"/><ellipse cx="277" cy="1210" rx="10" ry="17" fill="#a01020"/><ellipse cx="293" cy="1178" rx="10" ry="14" fill="#b01020"/><ellipse cx="321" cy="1248" rx="12" ry="12" fill="#901020"/>
<ellipse cx="240" cy="1216" rx="7" ry="8" fill="#2040ff"/><ellipse cx="258" cy="1230" rx="7" ry="8" fill="#2040ff"/><ellipse cx="277" cy="1208" rx="6" ry="9" fill="#2040ff"/><ellipse cx="293" cy="1178" rx="5" ry="6" fill="#2050ff"/><ellipse cx="321" cy="1248" rx="7" ry="9" fill="#30a0ff"/>
<ellipse cx="389" cy="1162" rx="12" ry="16" fill="#1838f0"/>
<ellipse cx="389" cy="1228" rx="17" ry="20" fill="none" stroke="#b01020" stroke-width="3"/>
</g>
<rect x="279" y="1161" width="30" height="33" fill="none" stroke="#eee" stroke-dasharray="3,2"/>
<text x="232" y="1273" class="s"><tspan style="fill:#1428e0">DAPI</tspan>/<tspan style="fill:#e81818">circ-β-TrCP</tspan></text>

<use href="#R1" x="237"/>
<text x="523" y="1124" class="s" text-anchor="middle">BT474-TR</text>
<g filter="url(#bl)">
<ellipse cx="518" cy="1166" rx="14" ry="24" fill="#c01020"/><ellipse cx="508" cy="1200" rx="12" ry="22" fill="#c01020"/><ellipse cx="475" cy="1198" rx="11" ry="17" fill="#b01020"/><ellipse cx="482" cy="1242" rx="10" ry="10" fill="#b01020"/><ellipse cx="461" cy="1240" rx="7" ry="13" fill="#b01020"/><ellipse cx="530" cy="1232" rx="9" ry="16" fill="#b01020"/><ellipse cx="508" cy="1220" rx="8" ry="9" fill="#b01020"/>
<ellipse cx="518" cy="1166" rx="6" ry="12" fill="#3050ff"/><ellipse cx="508" cy="1198" rx="5" ry="10" fill="#3050ff"/><ellipse cx="475" cy="1198" rx="5" ry="9" fill="#3050ff"/><ellipse cx="482" cy="1242" rx="5" ry="5" fill="#3050ff"/><ellipse cx="461" cy="1240" rx="4" ry="7" fill="#3050ff"/><ellipse cx="530" cy="1234" rx="4" ry="8" fill="#3050ff"/><ellipse cx="508" cy="1220" rx="4" ry="5" fill="#3050ff"/>
<ellipse cx="626" cy="1162" rx="10" ry="14" fill="#1838f0"/>
<ellipse cx="626" cy="1228" rx="16" ry="24" fill="none" stroke="#c01020" stroke-width="4"/>
</g>
<rect x="456" y="1182" width="31" height="35" fill="none" stroke="#eee" stroke-dasharray="3,2"/>
<text x="469" y="1273" class="s"><tspan style="fill:#1428e0">DAPI</tspan>/<tspan style="fill:#e81818">circ-β-TrCP</tspan></text>

<use href="#R1" x="475"/>
<text x="760" y="1124" class="s" text-anchor="middle">SKBR3</text>
<g filter="url(#bl)">
<ellipse cx="767" cy="1170" rx="26" ry="22" fill="#801020"/><ellipse cx="700" cy="1240" rx="16" ry="18" fill="#801020"/><ellipse cx="725" cy="1232" rx="13" ry="15" fill="#801020"/><ellipse cx="768" cy="1220" rx="12" ry="17" fill="#a01020"/><ellipse cx="810" cy="1250" rx="8" ry="15" fill="#801020"/>
<ellipse cx="764" cy="1160" rx="5" ry="7" fill="#3050ff"/><ellipse cx="780" cy="1175" rx="5" ry="7" fill="#3050ff"/><ellipse cx="756" cy="1182" rx="5" ry="7" fill="#3050ff"/><ellipse cx="700" cy="1240" rx="6" ry="8" fill="#3050ff"/><ellipse cx="725" cy="1230" rx="6" ry="7" fill="#3050ff"/><ellipse cx="767" cy="1220" rx="5" ry="7" fill="#3050ff"/>
<ellipse cx="864" cy="1162" rx="11" ry="15" fill="#1a40ff"/>
<ellipse cx="864" cy="1228" rx="18" ry="24" fill="none" stroke="#b01020" stroke-width="3"/>
</g>
<rect x="751" y="1203" width="33" height="35" fill="none" stroke="#eee" stroke-dasharray="3,2"/>
<text x="707" y="1273" class="s"><tspan style="fill:#1428e0">DAPI</tspan>/<tspan style="fill:#e81818">circ-β-TrCP</tspan></text>

<use href="#R1" x="713"/>
<text x="997" y="1124" class="s" text-anchor="middle">SKBR3-TR</text>
<g filter="url(#bl)">
<ellipse cx="1000" cy="1180" rx="14" ry="18" fill="#e01020"/><ellipse cx="970" cy="1196" rx="11" ry="15" fill="#d01020"/><ellipse cx="975" cy="1228" rx="15" ry="12" fill="#e01020"/><ellipse cx="1029" cy="1224" rx="17" ry="10" fill="#e01020"/><path d="M1040,1205L1046,1240L1030,1238Z" fill="#e01020"/>
<ellipse cx="1000" cy="1178" rx="6" ry="8" fill="#30a0ff"/><ellipse cx="999" cy="1200" rx="6" ry="8" fill="#3060ff"/><ellipse cx="970" cy="1194" rx="5" ry="7" fill="#30a0ff"/><ellipse cx="975" cy="1228" rx="6" ry="6" fill="#30a0ff"/><ellipse cx="1022" cy="1226" rx="6" ry="6" fill="#3070ff"/>
<ellipse cx="1102" cy="1160" rx="11" ry="14" fill="#2a80ff"/>
<path d="M1086,1212L1118,1210L1110,1250L1090,1240Z" fill="#e01020"/>
</g>
<rect x="959" y="1210" width="33" height="35" fill="none" stroke="#eee" stroke-dasharray="3,2"/>
<text x="945" y="1273" class="s"><tspan style="fill:#1428e0">DAPI</tspan>/<tspan style="fill:#e81818">circ-β-TrCP</tspan></text>

<!-- ===== S T U ===== -->
<g id="Sax">
<path class="ax" d="M76,1348V1491H233M71,1348H76M71,1395.7H76M71,1443.3H76M71,1491H76M73,1371.8H76M73,1419.5H76M73,1467.2H76"/>
<g class="a" text-anchor="end"><text x="68" y="1352">1.2</text><text x="68" y="1400">1.0</text><text x="68" y="1447">0.8</text><text x="68" y="1495">0.6</text></g>
<text transform="translate(42,1420) rotate(-90)" text-anchor="middle" class="s">Relative circ-β-TrCP expression</text>
</g>
<text x="6" y="1325" class="L">S</text>
<path class="ax" d="M96,1491v5M136,1491v5M175,1491v5M214,1491v5"/>
<g class="a" text-anchor="middle"><text x="96" y="1509">0h</text><text x="136" y="1509">12h</text><text x="175" y="1509">24h</text><text x="214" y="1509">36h</text><text x="155" y="1527" class="s">Time</text></g>
<path d="M96,1395.7L136,1387.3L175,1407.6L214,1397.3" stroke="#333" stroke-width="1.2" fill="none"/>
<path class="eb" d="M96,1385V1406.4M92,1385H100M92,1406.4H100M136,1377.8V1396.8M132,1377.8H140M132,1396.8H140M175,1390.9V1424.3M171,1390.9H179M171,1424.3H179M214,1387.8V1406.8M210,1387.8H218M210,1406.8H218"/>
<circle cx="96" cy="1395.7" r="5" class="bd"/><circle cx="136" cy="1387.3" r="5" class="bd"/><circle cx="175" cy="1407.6" r="5" class="bd"/><circle cx="214" cy="1397.3" r="5" class="bd"/>

<use href="#Sax" x="235"/>
<text x="242" y="1325" class="L">T</text>
<path class="ax" d="M338,1491v5M390,1491v5M442,1491v5"/>
<g class="a" text-anchor="middle"><text x="338" y="1509">Mock</text><text x="390" y="1509">NaOH</text><text x="442" y="1509">HCl</text><text x="390" y="1527" class="s">Treatment</text></g>
<path d="M338,1395.7L390,1413.1L442,1400.4" stroke="#333" stroke-width="1.2" fill="none"/>
<path class="eb" d="M338,1387V1404.4M334,1387H342M334,1404.4H342M390,1404.5V1421.7M386,1404.5H394M386,1421.7H394M442,1394V1406.8M438,1394H446M438,1406.8H446"/>
<circle cx="338" cy="1395.7" r="5" class="bd"/><circle cx="390" cy="1413.1" r="5" class="bd"/><circle cx="442" cy="1400.4" r="5" class="bd"/>

<use href="#Sax" x="458"/>
<text x="462" y="1325" class="L">U</text>
<path class="ax" d="M552,1491v5M584,1491v5M615,1491v5M646,1491v5M677,1491v5"/>
<g class="a" text-anchor="middle"><text x="552" y="1509">0</text><text x="584" y="1509">2</text><text x="615" y="1509">4</text><text x="646" y="1509">6</text><text x="677" y="1509">12</text><text x="614" y="1527" class="s">Cycles</text></g>
<path d="M552,1395.7L584,1393.8L615,1402.1L646,1394.2L677,1403.8" stroke="#333" stroke-width="1.2" fill="none"/>
<path class="eb" d="M552,1382.6V1408.8M548,1382.6H556M548,1408.8H556M584,1386.7V1400.9M580,1386.7H588M580,1400.9H588M615,1381.9V1422.3M611,1381.9H619M611,1422.3H619M646,1385.9V1402.5M642,1385.9H650M642,1402.5H650M677,1391.9V1415.7M673,1391.9H681M673,1415.7H681"/>
<circle cx="552" cy="1395.7" r="5" class="bd"/><circle cx="584" cy="1393.8" r="5" class="bd"/><circle cx="615" cy="1402.1" r="5" class="bd"/><circle cx="646" cy="1394.2" r="5" class="bd"/><circle cx="677" cy="1403.8" r="5" class="bd"/>

<!-- ===== V ===== -->
<text x="696" y="1325" class="L">V</text>
<path class="ax" d="M755,1348V1491H911M750,1348H755M750,1376.6H755M750,1405.2H755M750,1433.8H755M750,1462.4H755M750,1491H755M796,1491v5M873,1491v5"/>
<g class="a" text-anchor="end"><text x="747" y="1352">10</text><text x="747" y="1381">8</text><text x="747" y="1409">6</text><text x="747" y="1438">4</text><text x="747" y="1466">2</text><text x="747" y="1495">0</text></g>
<text transform="translate(720,1420) rotate(-90)" text-anchor="middle" class="s">Relative circ-β-TrCP expression</text>
<path class="eb" d="M796,1365V1358H873V1365"/><text x="834" y="1354" class="k" text-anchor="middle">****</text>
<text x="834" y="1377" class="s" text-anchor="middle">Plasma</text>
<g class="bd">
<circle cx="796" cy="1440" r="5.5"/><circle cx="796" cy="1451" r="5.5"/><circle cx="790" cy="1463" r="5.5"/><circle cx="800" cy="1464" r="5.5"/><circle cx="785" cy="1470" r="5.5"/><circle cx="806" cy="1473" r="5.5"/><circle cx="794" cy="1476" r="5.5"/><circle cx="782" cy="1477" r="5.5"/><circle cx="812" cy="1477" r="5.5"/><circle cx="801" cy="1479" r="5.5"/><circle cx="790" cy="1484" r="5.5"/><circle cx="808" cy="1484" r="5.5"/><circle cx="784" cy="1489" r="5.5"/><circle cx="798" cy="1490" r="5.5"/>
</g>
<g class="rd">
<circle cx="880" cy="1381" r="6"/><circle cx="870" cy="1386" r="6"/><circle cx="864" cy="1411" r="6"/><circle cx="882" cy="1409" r="6"/><circle cx="858" cy="1416" r="6"/><circle cx="872" cy="1417" r="6"/><circle cx="888" cy="1418" r="6"/><circle cx="860" cy="1427" r="6"/><circle cx="877" cy="1428" r="6"/><circle cx="868" cy="1436" r="6"/><circle cx="858" cy="1454" r="6"/><circle cx="872" cy="1454" r="6"/><circle cx="888" cy="1454" r="6"/><circle cx="868" cy="1463" r="6"/><circle cx="880" cy="1475" r="6"/><circle cx="868" cy="1480" r="6"/>
</g>
<path class="eb" d="M782,1474H810M796,1460V1488M790,1460H802 M859,1433H887M873,1404V1461M867,1404H879M867,1461H879" stroke="#444"/>
<g class="s" text-anchor="middle"><text x="796" y="1509">Sensitive</text><text x="873" y="1509">Resistant</text><text x="834" y="1530">Trastuzumab</text></g>
<path d="M790,1516H880" stroke="#333" stroke-width="1.4"/>

<!-- ===== W ===== -->
<text x="930" y="1325" class="L">W</text>
<path class="ax" d="M992,1345V1489H1149M987,1345H992M987,1373.8H992M987,1402.6H992M987,1431.4H992M987,1460.2H992M987,1489H992M992,1489v5M1023.4,1489v5M1054.8,1489v5M1086.2,1489v5M1117.6,1489v5M1149,1489v5"/>
<g class="a" text-anchor="end"><text x="984" y="1349">100</text><text x="984" y="1378">80</text><text x="984" y="1407">60</text><text x="984" y="1435">40</text><text x="984" y="1464">20</text><text x="984" y="1493">0</text></g>
<g class="a" text-anchor="middle"><text x="992" y="1509">0</text><text x="1023" y="1509">20</text><text x="1055" y="1509">40</text><text x="1086" y="1509">60</text><text x="1118" y="1509">80</text><text x="1149" y="1509">100</text><text x="1070" y="1528" class="s">100% - Specificity%</text></g>
<text transform="translate(956,1420) rotate(-90)" text-anchor="middle" class="s">Sensitivity%</text>
<path d="M992,1489L1149,1345" stroke="#e81818" stroke-width="1.5" stroke-dasharray="5,3"/>
<path d="M992,1489V1408.4H996.7V1401.2H1012.4V1360.8H1043.8V1353.6H1097.2V1345H1149" stroke="#7ab8f0" stroke-width="1.5" fill="none"/>
<g class="bd">
<circle cx="992" cy="1489" r="4.3"/><circle cx="992" cy="1481" r="4.3"/><circle cx="992" cy="1473.2" r="4.3"/><circle cx="992" cy="1464.5" r="4.3"/><circle cx="992" cy="1457.3" r="4.3"/><circle cx="992" cy="1448.7" r="4.3"/><circle cx="992" cy="1441.5" r="4.3"/><circle cx="992" cy="1432.8" r="4.3"/><circle cx="992" cy="1425.6" r="4.3"/><circle cx="992" cy="1417" r="4.3"/><circle cx="992" cy="1408.4" r="4.3"/><circle cx="996.7" cy="1408.4" r="4.3"/><circle cx="1001.4" cy="1401.2" r="4.3"/><circle cx="1012.4" cy="1401.2" r="4.3"/><circle cx="1012.4" cy="1392.5" r="4.3"/><circle cx="1012.4" cy="1385.3" r="4.3"/><circle cx="1012.4" cy="1376.7" r="4.3"/><circle cx="1012.4" cy="1369.5" r="4.3"/><circle cx="1012.4" cy="1360.8" r="4.3"/><circle cx="1043.8" cy="1360.8" r="4.3"/><circle cx="1043.8" cy="1353.6" r="4.3"/><circle cx="1054.8" cy="1353.6" r="4.3"/><circle cx="1065.8" cy="1353.6" r="4.3"/><circle cx="1075.2" cy="1353.6" r="4.3"/><circle cx="1086.2" cy="1353.6" r="4.3"/><circle cx="1097.2" cy="1353.6" r="4.3"/><circle cx="1097.2" cy="1345" r="4.3"/><circle cx="1106.6" cy="1345" r="4.3"/><circle cx="1117.6" cy="1345" r="4.3"/><circle cx="1128.6" cy="1345" r="4.3"/><circle cx="1138" cy="1345" r="4.3"/><circle cx="1149" cy="1345" r="4.3"/>
</g>
<text x="1048" y="1405" class="s">AUC=0.9037</text>
<text x="1052" y="1426" class="s"><tspan font-style="italic">P</tspan>&lt;0.001</text>
</svg>
</body></html>
